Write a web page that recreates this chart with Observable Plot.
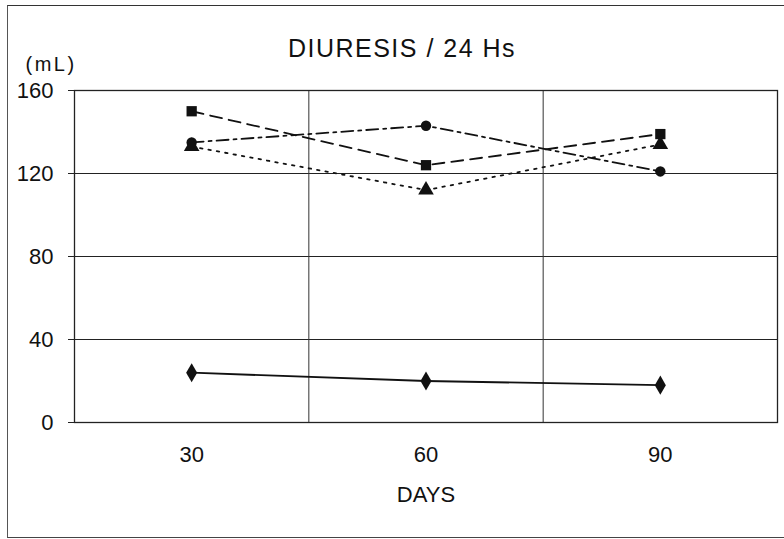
<!DOCTYPE html>
<html>
<head>
<meta charset="utf-8">
<script src="https://cdn.jsdelivr.net/npm/d3@7"></script>
<script src="https://cdn.jsdelivr.net/npm/@observablehq/plot@0.6"></script>
<style>
  html, body { margin: 0; padding: 0; background: #fff; }
  #wrap { position: relative; width: 784px; height: 539px; overflow: hidden; }
  #border { position: absolute; left: 7px; top: 5px; width: 790px; height: 531px; border-left: 1.5px solid #555; border-top: 1.5px solid #333; border-bottom: 1.5px solid #444; }
  #chart { position: absolute; left: 0; top: 0; }
  svg { font-family: "Liberation Sans", Arial, sans-serif; }
</style>
</head>
<body>
<div id="wrap"><div id="border"></div><div id="chart"></div></div>
<script>
const days = [30, 60, 90];
const yTicks = [0, 40, 80, 120, 160];
const seriesSquare = [150, 124, 139];
const seriesCircle = [135, 143, 121];
const seriesTriangle = [133, 112, 134];
const seriesDiamond = [24, 20, 18];
const seriesNames = ["square", "circle", "triangle", "diamond"];
const title = "DIURESIS / 24 Hs";
const yUnit = "(mL)";
const xTitle = "DAYS";

const seriesValues = [seriesSquare, seriesCircle, seriesTriangle, seriesDiamond];
const dashes = {square: "12,7", circle: "12,5,3,5", triangle: "2.5,6", diamond: null};
const radius = {square: 5.8, circle: 5.2, triangle: 5.8, diamond: 5.8};
const data = [];
seriesNames.forEach((s, i) => days.forEach((d, j) => data.push({series: s, day: d, value: seriesValues[i][j]})));

const marks = [
  Plot.ruleY(yTicks, {stroke: "#222", strokeWidth: 1.2}),
  Plot.ruleX([45, 75], {stroke: "#333", strokeWidth: 1}),
  Plot.frame({stroke: "#222", strokeWidth: 1.3}),
  Plot.axisY(yTicks, {tickSize: 6, tickPadding: 15, fontSize: 22, fill: "#111", stroke: "#222", label: null}),
  Plot.axisX(days, {tickSize: 0, tickPadding: 24, fontSize: 22, fill: "#111", label: null}),
];
seriesNames.forEach(s => {
  marks.push(Plot.line(data.filter(d => d.series === s), {x: "day", y: "value", stroke: "#111", strokeWidth: 1.8, strokeDasharray: dashes[s]}));
  marks.push(Plot.dot(data.filter(d => d.series === s), {x: "day", y: "value", symbol: () => s, fill: "#111", stroke: null, r: radius[s]}));
});
marks.push(Plot.text([title], {frameAnchor: "top", dx: -24, dy: -51, fontSize: 25, fill: "#111"}));
marks.push(Plot.text([yUnit], {frameAnchor: "top-left", dx: -49, dy: -34, fontSize: 20, textAnchor: "start", fill: "#111"}));
marks.push(Plot.text([xTitle], {frameAnchor: "bottom", dy: 79, fontSize: 22, fill: "#111"}));

const chart = Plot.plot({
  width: 784,
  height: 539,
  marginLeft: 74,
  marginRight: 7,
  marginTop: 90,
  marginBottom: 117,
  x: {domain: [15, 105], type: "linear"},
  y: {domain: [0, 160]},
  symbol: {type: "identity"},
  style: {background: "transparent", overflow: "visible"},
  marks
});
d3.select(chart).selectAll("text").filter(function() { return this.textContent === title; }).attr("letter-spacing", "1.5px");
d3.select(chart).selectAll("text").filter(function() { return this.textContent === yUnit; }).attr("letter-spacing", "2.5px");
document.getElementById("chart").appendChild(chart);
</script>
</body>
</html>
